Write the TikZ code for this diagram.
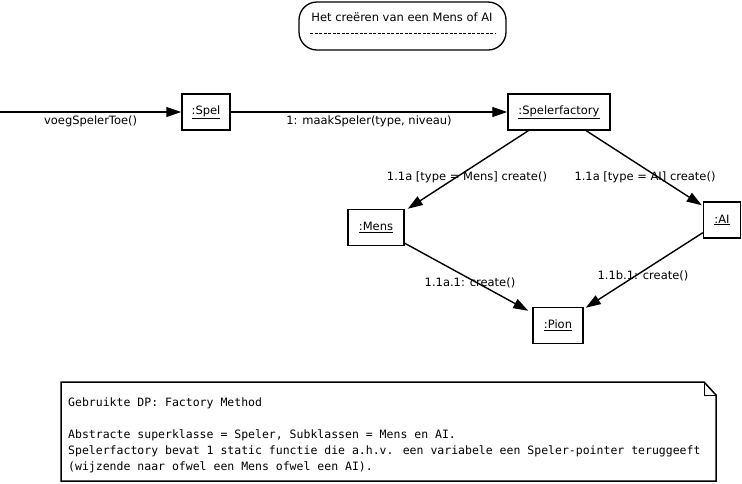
\documentclass[tikz,border=0pt]{standalone}
\usepackage{fontspec}
\setmainfont{DejaVu Sans}
\newfontfamily\notefont{DejaVu Sans Mono}
\usetikzlibrary{positioning, calc, arrows.meta}

\begin{document}
\begin{tikzpicture}[x=1pt, y=-1pt,
    object/.style={rectangle, 
      draw, 
      line width=1.5pt, 
      inner sep=0pt, 
      minimum height=36pt, 
      align=center},
    message/.style={line width=1.4pt, 
      -{Triangle[length=15pt, width=10pt]}},
    msglabel/.style={inner sep=0pt, 
      font=\fontsize{11.5}{13}\selectfont},
    every node/.style={font=\fontsize{11.5}{13}\selectfont}]
  \useasboundingbox (0,0) rectangle (742,483);

  % TITLE

  \node [rectangle, 
    draw, 
    line width=1.3pt, 
    rounded corners=18pt, 
    minimum width=207pt, 
    minimum height=48pt] (titlebox) at (402.5,26) {};
  \node [anchor=base] (title) at (402,21) {Het creëren van een Mens of AI};
  \draw [dash pattern=on 3pt off 1.5pt, line width=0.6pt] 
  ($(titlebox.west) + (12,7)$) -- ($(titlebox.east) + (-11,7)$);

  % OBJECTS

  \node [object, minimum width=48pt] (spel) at (206,112) {\underline{:Spel}};
  \node [object, minimum width=102pt] (factory) at (559,112) 
  {\underline{:Spelerfactory}};
  \node [object, minimum width=56pt] (mens) at (376,227.5) {\underline{:Mens}};
  \node [object, minimum width=37pt] (ai) at (722,220) {\underline{:AI}};
  \node [object, minimum width=50pt] (pion) at (558,325.5) {\underline{:Pion}};

  \coordinate (start) at (0,112);

  % MESSAGES

  \draw[message] (start) -- (spel.west) 
  node [msglabel, pos=0.5, below=3pt] (voeg) {voegSpelerToe()};

  \draw[message] (spel.east) -- (factory.west) 
  node [msglabel, pos=0.5, below=3pt] (maak) {1: maakSpeler(type, niveau)};

  \draw[message] ($(factory.south west) + (21,0)$) 
  -- ($(mens.north east) + (3,0)$);
  \node [msglabel] (mensmsg) at (467,177) {1.1a [type = Mens] create()};

  \draw[message] ($(factory.south west) + (79,0)$) 
  -- ($(ai.north west) + (-1,4)$);
  \node [msglabel] (aimsg) at (645,177) {1.1a [type = AI] create()};

  \draw[message] ($(mens.south east) + (0,-3)$) 
  -- ($(pion.north west) + (-4,4)$);
  \node [msglabel] (menspion) at (470,283) {1.1a.1: create()};

  \draw[message] ($(ai.south west) + (0,-6)$) 
  -- ($(pion.north east) + (2,1)$);
  \node [msglabel] (aipion) at (643,276) {1.1b.1: create()};

  % NOTE

  \draw[line width=1.5pt, line join=miter] (61,382) -- (704,382) -- (716,395) 
  -- (716,481) -- (61,481) -- cycle;
  \draw[line width=0.6pt] (704,382) -- (704,395) -- (716,395);

  \node [anchor=north west, 
    inner sep=0pt, 
    align=left, 
    font=\notefont\fontsize{11.5}{16}\selectfont] (note) at (68,398) {%
    Gebruikte DP: Factory Method\\[16pt]
    Abstracte superklasse = Speler, Subklassen = Mens en AI.\\
    Spelerfactory bevat 1 static functie die a.h.v. een variabele een Speler-pointer teruggeeft\\
    (wijzende naar ofwel een Mens ofwel een AI).};

\end{tikzpicture}
\end{document}
